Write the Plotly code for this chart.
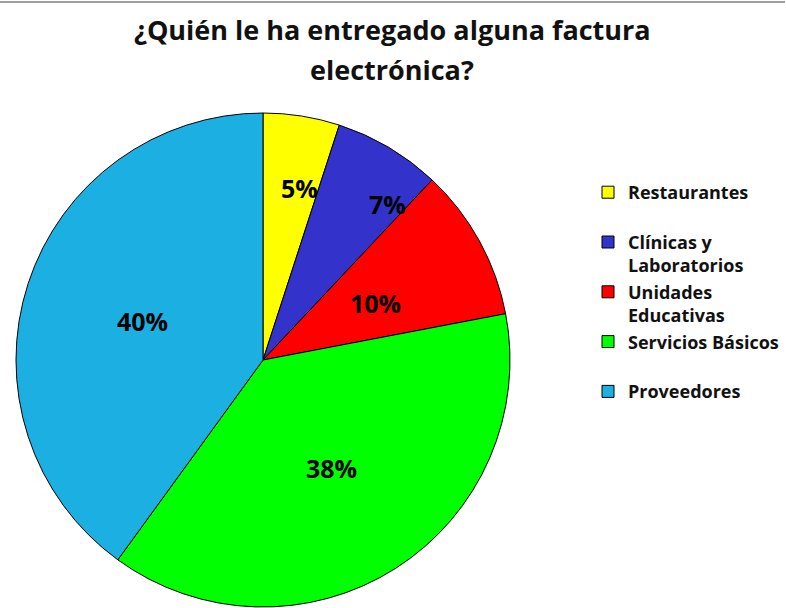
import math
import plotly.graph_objects as go

labels = ['Restaurantes<br> ', 'Clínicas y<br>Laboratorios', 'Unidades<br>Educativas',
          'Servicios Básicos<br> ', 'Proveedores']
values = [5, 7, 10, 38, 40]
colors = ['#FFFF00', '#3333CC', '#FF0000', '#00FF00', '#1CB0E2']

W, H = 786, 608
cx, cy, r = 263, 360, 247  # pie centre / radius in pixels

# where the small-slice labels sit (fraction of radius, angle nudge in degrees)
label_radius = [0.71, 0.81, 0.51]
label_nudge = [3, 8, 2]

fig = go.Figure()
fig.add_trace(go.Pie(
    labels=['<b>%s</b>' % l for l in labels], values=values,
    sort=False, direction='clockwise', rotation=0,
    marker=dict(colors=colors, line=dict(color='black', width=1)),
    texttemplate='<b>%{percent:.0%}</b>',
    textposition=['none', 'none', 'none', 'inside', 'inside'],
    insidetextorientation='horizontal',
    textfont=dict(family='Open Sans', size=25, color='black'),
    hoverinfo='label+value',
    domain=dict(x=[(cx - r) / W, (cx + r) / W],
                y=[(H - cy - r) / H, (H - cy + r) / H]),
))

# labels of the three thin slices, placed along their mid angles
total = sum(values)
start = 0
for i, v in enumerate(values[:3]):
    mid = math.radians(360 * (start + v / 2) / total + label_nudge[i])
    px_ = cx + label_radius[i] * r * math.sin(mid)
    py_ = cy - label_radius[i] * r * math.cos(mid)
    fig.add_annotation(text='<b>%d%%</b>' % round(100 * v / total), x=px_ / W, y=1 - py_ / H,
                       xref='paper', yref='paper', showarrow=False,
                       xanchor='center', yanchor='middle',
                       font=dict(family='Open Sans', size=25, color='black'))
    start += v

# two-line title
fig.add_annotation(text='<b>¿Quién le ha entregado alguna factura</b>', x=392 / W, y=1 - 30 / H,
                   xref='paper', yref='paper', showarrow=False, yanchor='middle',
                   font=dict(family='Open Sans', size=27, color='#111'))
fig.add_annotation(text='<b>electrónica?</b>', x=392 / W, y=1 - 70 / H,
                   xref='paper', yref='paper', showarrow=False, yanchor='middle',
                   font=dict(family='Open Sans', size=27, color='#111'))

# thin grey rule at top of the picture
fig.add_shape(type='line', xref='paper', yref='paper', x0=0, x1=785 / W, y0=1 - 2 / H, y1=1 - 2 / H,
              line=dict(color='#A0A0A0', width=2))

fig.update_layout(
    width=W, height=H,
    margin=dict(l=0, r=0, t=0, b=0),
    paper_bgcolor='white',
    showlegend=True,
    legend=dict(x=588 / W, y=1 - 174 / H, xanchor='left', yanchor='top',
                valign='top', itemwidth=30, traceorder='normal',
                font=dict(family='Open Sans', size=18, color='#111'),
                bgcolor='rgba(0,0,0,0)'),
)

fig.write_html('out.html', config={'displayModeBar': False},
               post_script="document.body.style.margin='0';")
